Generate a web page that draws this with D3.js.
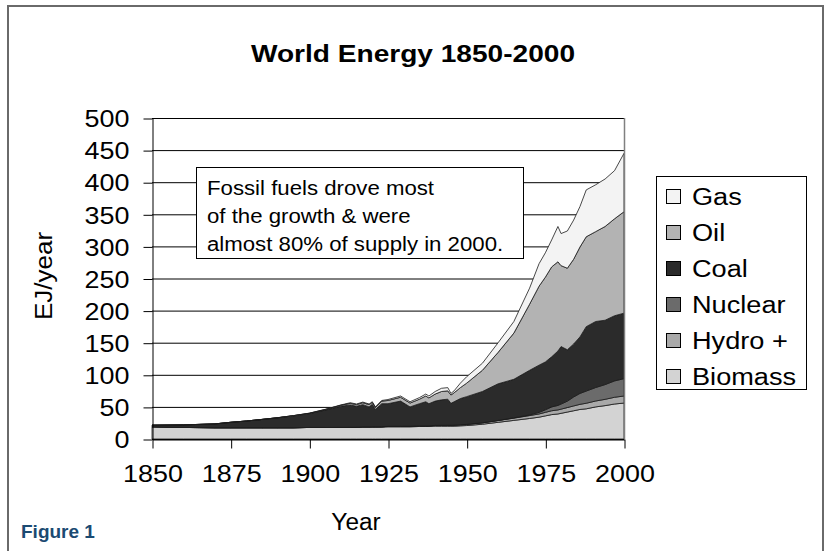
<!DOCTYPE html>
<html>
<head>
<meta charset="utf-8">
<script src="https://cdn.jsdelivr.net/npm/d3@7/dist/d3.min.js"></script>
<style>
  html, body { margin: 0; padding: 0; background: #fff; }
  svg { display: block; }
  text { font-family: "Liberation Sans", Arial, Helvetica, sans-serif; fill: #000; }
</style>
</head>
<body>
<svg id="chart" width="827" height="551"></svg>
<script>
// World primary energy by source, EJ per year
const years   = [1850,1860,1870,1875,1880,1885,1890,1895,1900,1905,1910,1913,1915,1917,1919,1920,1921,1923,1925,1929,1932,1935,1937,1938,1940,1942,1944,1945,1946,1948,1950,1955,1960,1965,1970,1973,1975,1977,1979,1980,1982,1984,1986,1988,1991,1994,1997,2000];
const biomass = [19,18,17.5,17.5,17.5,17.5,17.5,17.5,18,18,18,18,18,18.5,18.5,18.5,18.5,18.5,19,19,19,19.5,19.5,19.5,20,20,20,20,20,20.5,21,23,26,29,32,34,36,38,39,40,42,44,46,47,50,52,54.5,56];
const hydro   = [0,0,0,0,0,0,0,0,0,0,0.2,0.3,0.3,0.4,0.4,0.5,0.5,0.6,0.7,0.8,0.9,1,1,1,1.2,1.3,1.4,1.4,1.5,1.6,1.8,2.2,2.8,3.5,4.5,5,5.5,6,6.3,6.5,7,7.5,8,8.7,9.2,9.8,10.5,11];
const nuclear = [0,0,0,0,0,0,0,0,0,0,0,0,0,0,0,0,0,0,0,0,0,0,0,0,0,0,0,0,0,0,0,0,0.1,0.5,1,2.5,4,6,7,8,10,14,17,19,21,23,25.5,27];
const coal    = [2.5,4,6,8.5,10.5,13,15.5,18.5,21.5,27,32.8,34.7,32.7,34.6,31.1,35,27,35.9,35.3,39.2,30.1,34.5,37.5,34.5,37.8,39.7,40.6,34.1,36.5,40.9,43.2,48.8,57.1,60,69.5,73.5,74.5,78,84.7,89.5,80,82.5,88,100.3,102.8,100.2,101.5,102];
const oil     = [0,0,0,0,0,0,0.2,0.4,0.5,0.8,1.5,2.5,2.5,3,3.5,3,3,4,5,6,6,7,9,9,11,13,13,13,14,17,21,33,49,72,103,123,132,140,139,126,127,132,140,140,140,146,151,158];
const gas     = [0,0,0,0,0,0,0,0.1,0.3,0.4,0.5,1,1,1,1,1,1,1,1.5,2,2,2.5,3,3,4,5,5,2.5,3,7,10,11,15,18,25,35,38,42,55,50,58,61,63,73,73,74,75,91];

const seriesKeys   = ["Biomass", "Hydro +", "Nuclear", "Coal", "Oil", "Gas"];
const seriesValues = [biomass, hydro, nuclear, coal, oil, gas];
const seriesFill   = ["#d3d3d3", "#a9a9a9", "#6b6b6b", "#2b2b2b", "#b3b3b3", "#f3f3f3"];
const legendOrder  = ["Gas", "Oil", "Coal", "Nuclear", "Hydro +", "Biomass"];

const yTicks = [0,50,100,150,200,250,300,350,400,450,500];
const xTicks = [1850,1875,1900,1925,1950,1975,2000];

const titleText = "World Energy 1850-2000";
const noteLines = ["Fossil fuels drove most", "of the growth & were", "almost 80% of supply in 2000."];

const rows = years.map((yr, i) => {
  const r = { year: yr };
  seriesKeys.forEach((k, j) => { r[k] = seriesValues[j][i]; });
  return r;
});

const svg = d3.select("#chart");
const plot = { left: 152, right: 624, top: 118, bottom: 439 };

const x = d3.scaleLinear().domain([1850, 2000]).range([plot.left, plot.right]);
const y = d3.scaleLinear().domain([0, 500]).range([plot.bottom, plot.top]);

// widen glyphs horizontally to the chart's stretched lettering
function widen(sel, k) {
  sel.each(function () {
    const w = this.getComputedTextLength();
    d3.select(this).attr("textLength", w * k).attr("lengthAdjust", "spacingAndGlyphs");
  });
}

// outer frame (open at the bottom)
svg.append("path")
  .attr("d", "M8,551 V6 H823 V551")
  .attr("fill", "none").attr("stroke", "#6a6a6a").attr("stroke-width", 2);

// title
svg.append("text")
  .attr("x", 413).attr("y", 62)
  .attr("text-anchor", "middle")
  .attr("font-size", 24).attr("font-weight", "bold")
  .text(titleText)
  .call(widen, 1.17);

// gridlines
svg.append("g")
  .selectAll("line")
  .data(yTicks)
  .join("line")
  .attr("x1", plot.left).attr("x2", plot.right)
  .attr("y1", d => y(d) + 0.5).attr("y2", d => y(d) + 0.5)
  .attr("stroke", "#000").attr("stroke-width", 1);

// stacked areas
const stack = d3.stack().keys(seriesKeys);
const layers = stack(rows);
const area = d3.area()
  .x(d => x(d.data.year))
  .y0(d => y(d[0]))
  .y1(d => y(d[1]));

svg.append("g")
  .selectAll("path")
  .data(layers)
  .join("path")
  .attr("d", area)
  .attr("fill", (d, i) => seriesFill[i])
  .attr("stroke", "#1a1a1a")
  .attr("stroke-width", 0.8)
  .attr("stroke-linejoin", "round");

// plot right edge
svg.append("line")
  .attr("x1", plot.right + 0.5).attr("x2", plot.right + 0.5)
  .attr("y1", plot.top).attr("y2", plot.bottom)
  .attr("stroke", "#808080").attr("stroke-width", 1.5);

// y axis
const yAxis = svg.append("g")
  .attr("transform", `translate(${plot.left + 0.5},0.5)`)
  .call(d3.axisLeft(y).tickValues(yTicks).tickSize(9).tickSizeOuter(0).tickPadding(14));
yAxis.select(".domain").attr("stroke", "#000");
yAxis.selectAll(".tick line").attr("stroke", "#000");
yAxis.selectAll(".tick text")
  .attr("font-family", "Liberation Sans, Arial, sans-serif")
  .attr("font-size", 23).attr("fill", "#000")
  .attr("dy", "0.36em")
  .call(widen, 1.17);

// x axis
const xAxis = svg.append("g")
  .attr("transform", `translate(0.5,${plot.bottom + 0.5})`)
  .call(d3.axisBottom(x).tickValues(xTicks).tickFormat(d3.format("d")).tickSize(9).tickSizeOuter(0).tickPadding(17));
xAxis.select(".domain").attr("stroke", "#000");
xAxis.selectAll(".tick line").attr("stroke", "#000");
xAxis.selectAll(".tick text")
  .attr("font-family", "Liberation Sans, Arial, sans-serif")
  .attr("font-size", 23).attr("fill", "#000")
  .call(widen, 1.17);

// axis titles
svg.append("text")
  .attr("transform", "translate(52,276) rotate(-90)")
  .attr("text-anchor", "middle")
  .attr("font-size", 23)
  .text("EJ/year")
  .call(widen, 1.13);

svg.append("text")
  .attr("x", 356).attr("y", 530)
  .attr("text-anchor", "middle")
  .attr("font-size", 23)
  .text("Year")
  .call(widen, 1.06);

// note box
const note = svg.append("g");
note.append("rect")
  .attr("x", 196.5).attr("y", 167.5).attr("width", 327).attr("height", 91)
  .attr("fill", "#fff").attr("stroke", "#000").attr("stroke-width", 1);
note.selectAll("text")
  .data(noteLines)
  .join("text")
  .attr("x", 207)
  .attr("y", (d, i) => 195 + i * 28)
  .attr("font-size", 20)
  .text(d => d)
  .call(widen, 1.11);

// legend
const legend = svg.append("g");
legend.append("rect")
  .attr("x", 656.5).attr("y", 176.5).attr("width", 150).attr("height", 213)
  .attr("fill", "#fff").attr("stroke", "#000").attr("stroke-width", 1);
const item = legend.selectAll("g.item")
  .data(legendOrder)
  .join("g")
  .attr("class", "item")
  .attr("transform", (d, i) => `translate(0,${196 + i * 36})`);
item.append("rect")
  .attr("x", 666.5).attr("y", -6.5).attr("width", 14).attr("height", 14)
  .attr("fill", d => seriesFill[seriesKeys.indexOf(d)])
  .attr("stroke", "#000").attr("stroke-width", 1);
item.append("text")
  .attr("x", 692).attr("y", 8.5)
  .attr("font-size", 23)
  .text(d => d)
  .call(widen, 1.18);

// figure label
svg.append("text")
  .attr("x", 21).attr("y", 538)
  .attr("font-family", "'Open Sans', 'Noto Sans', sans-serif")
  .attr("font-size", 19).attr("font-weight", "bold")
  .style("fill", "#1b4a72")
  .text("Figure 1");
</script>
</body>
</html>
